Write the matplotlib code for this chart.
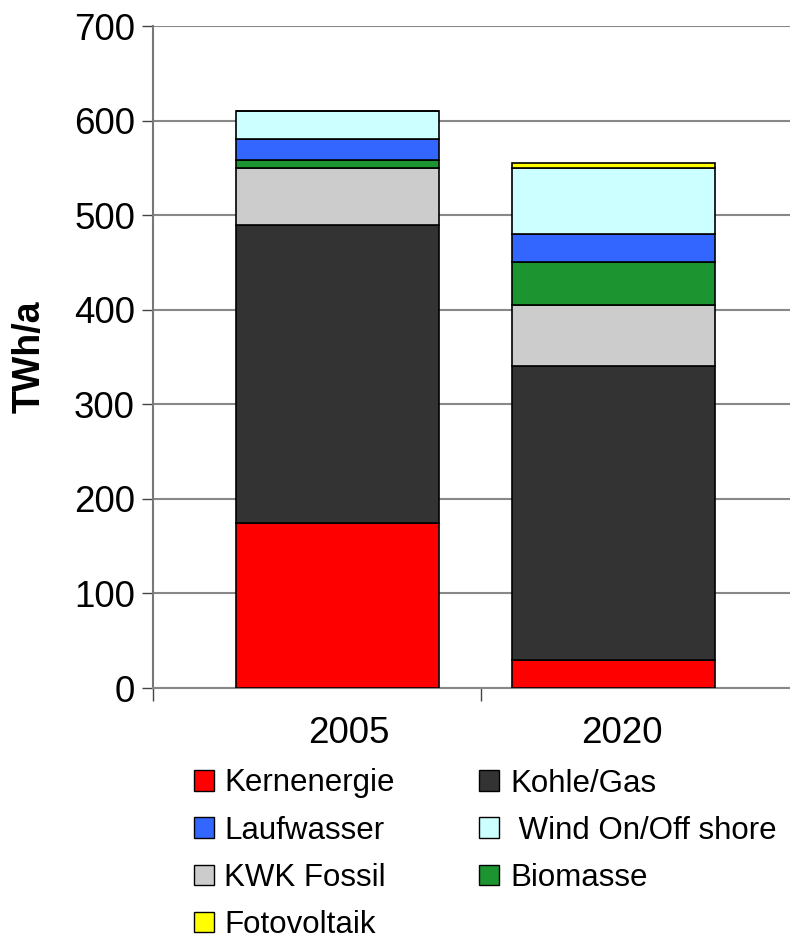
import matplotlib
matplotlib.use('Agg')
import matplotlib.pyplot as plt
from matplotlib.patches import Patch
import numpy as np

plt.rcParams['font.family'] = ['Liberation Sans', 'DejaVu Sans']

years = ['2005', '2020']
kernenergie = [175, 30]
kohle_gas = [315, 310]
kwk_fossil = [60, 65]
biomasse = [8, 45]
laufwasser = [22, 30]
wind = [30, 70]
fotovoltaik = [0, 5]

# stacking order bottom -> top
stack = [
    ('Kernenergie', kernenergie, '#FF0000'),
    ('Kohle/Gas', kohle_gas, '#333333'),
    ('KWK Fossil', kwk_fossil, '#CCCCCC'),
    ('Biomasse', biomasse, '#1C9430'),
    ('Laufwasser', laufwasser, '#3366FF'),
    (' Wind On/Off shore', wind, '#CCFFFF'),
    ('Fotovoltaik', fotovoltaik, '#FFFF00'),
]

fig = plt.figure(figsize=(7.9, 9.4), dpi=100)
ax = fig.add_axes([153 / 790, 1 - 688 / 940, 1 - 153 / 790, (688 - 26) / 940])

x = np.arange(len(years))
bottom = np.zeros(len(years))
colors = {}
for name, vals, col in stack:
    v = np.array(vals, dtype=float)
    ax.bar(x, v, width=0.735, bottom=bottom, color=col, edgecolor='black',
           linewidth=1.2, zorder=3)
    bottom += v
    colors[name] = col

ax.set_xlim(-0.669, 1.64)
ax.set_ylim(0, 700)
ax.set_yticks(range(0, 701, 100))
ax.yaxis.grid(True, color='#888888', linewidth=1.5, zorder=0)
ax.tick_params(axis='y', labelsize=26.5, length=8, width=1, color='#444444', pad=5)

# category labels sit slightly right of the bar centres, like the original
ax.set_xticks([0.04, 1.029])
ax.set_xticklabels(years, fontsize=26.5)
ax.tick_params(axis='x', length=0, pad=20)
ax.set_xticks([-0.669, 0.52], minor=True)
ax.tick_params(axis='x', which='minor', length=9, width=1, color='#444444')

for s in ['top', 'right']:
    ax.spines[s].set_visible(False)
ax.spines['left'].set_color('#777777')
ax.spines['left'].set_linewidth(1.5)
ax.spines['bottom'].set_color('#888888')
ax.spines['bottom'].set_linewidth(1.5)

ax.set_ylabel('TWh/a', fontsize=27, fontweight='bold', labelpad=19)

order = ['Kernenergie', 'Laufwasser', 'KWK Fossil', 'Fotovoltaik',
         'Kohle/Gas', ' Wind On/Off shore', 'Biomasse']
handles = [Patch(facecolor=colors[n], edgecolor='black', linewidth=1) for n in order]
fig.legend(handles, order, ncol=2, loc='upper left', bbox_to_anchor=(181 / 790, 1 - 756 / 940),
           frameon=False, fontsize=22.5, handlelength=0.64, handleheight=0.64,
           handletextpad=0.35, columnspacing=2.7, labelspacing=0.55, borderaxespad=0)

fig.savefig('out.png', dpi=100)
